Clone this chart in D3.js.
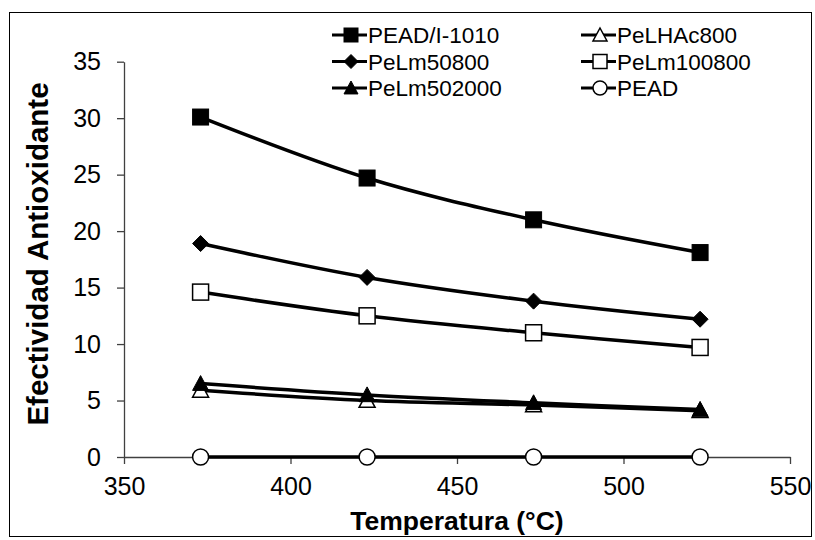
<!DOCTYPE html>
<html><head><meta charset="utf-8">
<script src="https://cdn.jsdelivr.net/npm/d3@7"></script>
<style>html,body{margin:0;padding:0;background:#fff}svg{display:block}</style>
</head><body>
<svg id="c" width="815" height="540"></svg>
<script>
const temps = [373, 423, 473, 523];
const seriesNames = ["PEAD/I-1010", "PeLHAc800", "PeLm50800", "PeLm100800", "PeLm502000", "PEAD"];
const peadI1010 = [30.1, 24.7, 21.0, 18.1];
const peLHAc800 = [5.9, 5.0, 4.6, 4.1];
const peLm50800 = [18.9, 15.9, 13.8, 12.2];
const peLm100800 = [14.6, 12.5, 11.0, 9.7];
const peLm502000 = [6.5, 5.5, 4.8, 4.2];
const pead = [0, 0, 0, 0];
const xTicks = [350, 400, 450, 500, 550];
const yTicks = [0, 5, 10, 15, 20, 25, 30, 35];
const markers = ["square", "triangleOpen", "diamond", "squareOpen", "triangle", "circleOpen"];
const allValues = [peadI1010, peLHAc800, peLm50800, peLm100800, peLm502000, pead];

const svg = d3.select("#c");
const font = "'Liberation Sans', Arial, sans-serif";
svg.append("rect").attr("x", 9.5).attr("y", 12.5).attr("width", 802).attr("height", 524)
  .attr("fill", "#fff").attr("stroke", "#000").attr("stroke-width", 1);

const x = d3.scaleLinear().domain([350, 550]).range([124, 790]);
const y = d3.scaleLinear().domain([0, 35]).range([457, 61.7]);

const gx = svg.append("g").attr("transform", `translate(0,${y(0)})`)
  .call(d3.axisBottom(x).tickValues(xTicks).tickSizeInner(7).tickSizeOuter(0).tickPadding(13));
const gy = svg.append("g").attr("transform", `translate(${x(350)},0)`)
  .call(d3.axisLeft(y).tickValues(yTicks).tickSizeInner(7).tickSizeOuter(0).tickPadding(16));
[gx, gy].forEach(g => {
  g.select(".domain").attr("stroke", "#404040").attr("stroke-width", 1.3);
  g.selectAll(".tick line").attr("stroke", "#404040").attr("stroke-width", 1.3);
  g.selectAll(".tick text").attr("font-family", font).attr("font-size", 25).attr("fill", "#000");
});

svg.append("text").attr("x", x(450)).attr("y", 530).attr("text-anchor", "middle")
  .attr("font-family", font).attr("font-weight", "bold").attr("font-size", 26.5)
  .text("Temperatura (°C)");
svg.append("text").attr("transform", `translate(48,254) rotate(-90)`)
  .attr("text-anchor", "middle").attr("font-family", font).attr("font-weight", "bold").attr("font-size", 29.5)
  .text("Efectividad Antioxidante");

function drawMarker(g, type, cx, cy, s) {
  const h = s / 2;
  const open = type.endsWith("Open");
  const fill = open ? "#fff" : "#000";
  let el;
  if (type.startsWith("square")) {
    el = g.append("rect").attr("x", cx - h).attr("y", cy - h).attr("width", s).attr("height", s);
  } else if (type === "diamond") {
    el = g.append("path").attr("d", `M${cx},${cy-h}L${cx+h},${cy}L${cx},${cy+h}L${cx-h},${cy}Z`);
  } else if (type.startsWith("triangle")) {
    el = g.append("path").attr("d", `M${cx},${cy-h}L${cx+h},${cy+h*0.85}L${cx-h},${cy+h*0.85}Z`);
  } else {
    el = g.append("circle").attr("cx", cx).attr("cy", cy).attr("r", h);
  }
  el.attr("fill", fill).attr("stroke", "#000").attr("stroke-width", open ? 1.5 : 1);
}

const line = d3.line().x((d, i) => x(temps[i])).y(d => y(d)).curve(d3.curveCardinal.tension(0));
const plot = svg.append("g");
seriesNames.forEach((name, si) => {
  const vals = allValues[si];
  const g = plot.append("g");
  g.append("path").attr("d", line(vals)).attr("fill", "none").attr("stroke", "#000").attr("stroke-width", 3.5);
  vals.forEach((v, i) => drawMarker(g, markers[si], x(temps[i]), y(v), 16));
});

// legend
const legX = [332, 581], legY = [35, 61.5, 88];
seriesNames.forEach((name, si) => {
  const col = si % 2, row = Math.floor(si / 2);
  const lx = legX[col], ly = legY[row];
  const g = svg.append("g");
  g.append("line").attr("x1", lx).attr("x2", lx + 35).attr("y1", ly).attr("y2", ly)
    .attr("stroke", "#000").attr("stroke-width", 3);
  drawMarker(g, markers[si], lx + 19, ly, 14);
  g.append("text").attr("x", lx + 36).attr("y", ly + 8).attr("font-family", font).attr("font-size", 22.5)
    .text(name);
});
</script>
</body></html>
